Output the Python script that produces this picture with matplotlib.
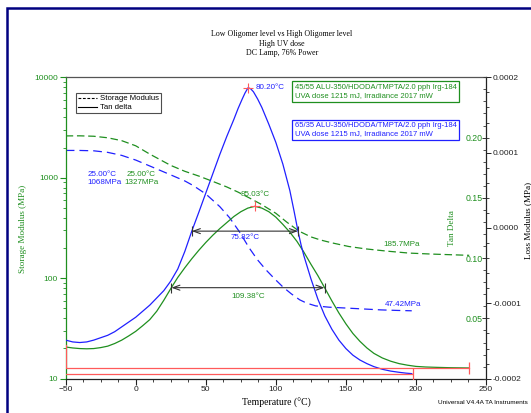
import numpy as np
import matplotlib
matplotlib.use('Agg')
import matplotlib.pyplot as plt
import matplotlib.ticker as ticker
from matplotlib.lines import Line2D
from matplotlib.patches import Rectangle

W, H = 531, 413

GREEN = '#1f8f1f'
BLUE = '#2020ff'
RED = '#ff5a5a'
SANS = 'Liberation Sans'
SERIF = 'Liberation Serif'

# tan delta, 45/55 sample
temp_green_td = [-50, -45, -40, -35, -30, -25, -20, -15, -10, -5, 0, 5, 10, 15, 20, 25.4, 30,
                 35, 40, 45, 50, 55, 60, 65, 70, 75, 80, 85.03, 90, 95, 100, 105, 110, 115,
                 120, 125, 130, 134.8, 140, 145, 150, 155, 160, 165, 170, 176, 182, 188, 194,
                 200, 207, 215, 225, 238]
td_green = [0.0263, 0.0255, 0.025, 0.0248, 0.025, 0.0258, 0.027, 0.0292, 0.032, 0.0355,
            0.0393, 0.044, 0.049, 0.056, 0.065, 0.0755, 0.084, 0.092, 0.0995, 0.1065, 0.113,
            0.119, 0.1245, 0.1295, 0.1345, 0.1385, 0.1415, 0.143, 0.1415, 0.1385, 0.134,
            0.128, 0.1215, 0.114, 0.105, 0.095, 0.0855, 0.0755, 0.0645, 0.0545, 0.0455,
            0.0375, 0.031, 0.0255, 0.021, 0.0172, 0.0145, 0.0125, 0.0112, 0.0102, 0.0097,
            0.0094, 0.0091, 0.0089]

# tan delta, 65/35 sample
temp_blue_td = [-50, -45, -40, -35, -30, -25, -20, -15, -10, -5, 0, 5, 10, 15, 20, 25, 30, 35,
                40, 45, 50, 55, 60, 65, 70, 73, 76, 78, 80.2, 82, 84, 87, 90, 95, 100, 105,
                110, 113, 115.8, 118, 120, 125, 130, 135, 140, 145, 150, 155, 160, 165, 170,
                176, 182, 188, 193, 197]
td_blue = [0.032, 0.0305, 0.030, 0.0305, 0.032, 0.034, 0.036, 0.039, 0.043, 0.047, 0.051,
           0.056, 0.061, 0.067, 0.073, 0.081, 0.091, 0.1055, 0.1224, 0.138, 0.154, 0.170,
           0.186, 0.201, 0.215, 0.224, 0.232, 0.237, 0.2414, 0.2405, 0.238, 0.232, 0.225,
           0.211, 0.196, 0.178, 0.156, 0.139, 0.1224, 0.111, 0.102, 0.083, 0.066, 0.052,
           0.041, 0.032, 0.025, 0.0195, 0.0155, 0.0125, 0.0100, 0.0078, 0.0063, 0.0053,
           0.0046, 0.0042]

# storage modulus (MPa)
temp_green_sm = [-50, -40, -30, -20, -10, 0, 10, 25, 35, 45, 55, 65, 73, 81, 90, 100, 108,
                 116.6, 125, 132, 140, 152, 164, 180, 195, 211, 238]
sm_green = [2610, 2615, 2590, 2500, 2340, 2080, 1720, 1327, 1160, 1040, 920, 810, 720, 631,
            540, 443, 360, 294, 258, 240, 225, 207, 196, 185.7, 178, 174, 169]

temp_blue_sm = [-50, -40, -30, -20, -10, 0, 10, 25, 35, 41, 50, 60, 67, 74, 81, 87, 93, 99,
                105, 111, 117, 122, 128.5, 138, 150, 163, 175, 187, 197]
sm_blue = [1871, 1870, 1855, 1790, 1670, 1500, 1310, 1068, 930, 837, 690, 516, 400, 290, 200,
           152, 121, 99, 82, 70, 61, 56.5, 53, 51.5, 50.5, 49.4, 48.4, 47.8, 47.42]

# peaks and half-height widths
peak_green = (85.03, 0.143)
peak_blue = (80.20, 0.2414)
width_green = (25.4, 109.38, 0.0755)
width_blue = (40.0, 75.82, 0.1224)

x_ticks = [-50, 0, 50, 100, 150, 200, 250]
td_ticks = [0.05, 0.10, 0.15, 0.20]
loss_ticks = [-0.0002, -0.0001, 0.0, 0.0001, 0.0002]

title_lines = ['Low Oligomer level vs High Oligomer level', 'High UV dose', 'DC Lamp, 76% Power']
green_note = '45/55 ALU-350/HDODA/TMPTA/2.0 pph Irg-184\nUVA dose 1215 mJ, Irradiance 2017 mW'
blue_note = '65/35 ALU-350/HDODA/TMPTA/2.0 pph Irg-184\nUVA dose 1215 mJ, Irradiance 2017 mW'


def fx(px):
    return px / W


def fy(py):
    return 1 - py / H


plt.rcParams['font.family'] = SANS
fig = plt.figure(figsize=(W / 100, H / 100), dpi=100)
fig.patch.set_facecolor('white')

ax = fig.add_axes([fx(65.7), fy(378.7), fx(486) - fx(65.7), fy(77.3) - fy(378.7)])
ax.set_yscale('log')
ax.set_xlim(-50, 250)
ax.set_ylim(10, 10000)

ax2 = ax.twinx()
ax2.set_ylim(0, 0.25)
ax3 = ax.twinx()
ax3.set_ylim(-0.0002, 0.0002)

# storage modulus, dashed
ax.plot(temp_green_sm, sm_green, color=GREEN, lw=0.9, ls=(0, (6, 3)))
ax.plot(temp_blue_sm, sm_blue, color=BLUE, lw=0.9, ls=(0, (7, 4)))

# tan delta, solid
ax2.plot(temp_green_td, td_green, color=GREEN, lw=0.9)
ax2.plot(temp_blue_td, td_blue, color=BLUE, lw=0.9)

# baselines in red
ax2.plot([temp_green_td[0], temp_green_td[0], temp_green_td[-1]],
         [0.028, td_green[-1] + 0.0002, td_green[-1] + 0.0002], color=RED, lw=0.9)
ax2.plot([temp_blue_td[0], temp_blue_td[-1]], [td_blue[-1], td_blue[-1]], color=RED, lw=0.9)
ax2.plot([temp_green_td[-1]], [td_green[-1] + 0.0002], marker='|', color=RED, ms=8, mew=0.9)
ax2.plot([temp_blue_td[-1] + 1], [td_blue[-1]], marker='|', color=RED, ms=8, mew=0.9)

# peak markers
for (t, v) in (peak_green, peak_blue):
    ax2.plot([t], [v], marker='+', color=RED, ms=7, mew=0.8)

# half-height width arrows
for (t0, w, v) in (width_green, width_blue):
    ax2.annotate('', xy=(t0, v), xytext=(t0 + w, v),
                 arrowprops=dict(arrowstyle='<->,head_length=0.5,head_width=0.18',
                                 color='#333333', lw=0.8, shrinkA=0, shrinkB=0))
    ax2.plot([t0, t0 + w], [v, v], ls='none', marker='|', color='#333333', ms=7, mew=0.8)

ax2.text(peak_blue[0] + 5.5, peak_blue[1], '%.2f°C' % peak_blue[0], color=BLUE,
         fontsize=5.8, va='center', ha='left')
ax2.text(peak_green[0], peak_green[1] + 0.010, '%.2f°C' % peak_green[0], color=GREEN,
         fontsize=5.8, va='center', ha='center')
ax2.text(width_blue[0] + width_blue[1] / 2, width_blue[2] - 0.0053, '%.2f°C' % width_blue[1],
         color=BLUE, fontsize=5.8, va='center', ha='center')
ax2.text(width_green[0] + width_green[1] / 2, width_green[2] - 0.0070, '%.2f°C' % width_green[1],
         color=GREEN, fontsize=5.8, va='center', ha='center')

# storage modulus values
ax.text(-34.6, 975, '25.00°C\n1068MPa', color=BLUE, fontsize=5.8, va='center', ha='left',
        linespacing=1.15)
ax.text(3.8, 975, '25.00°C\n1327MPa', color=GREEN, fontsize=5.8, va='center', ha='center',
        linespacing=1.15)
ax.text(177, 215, '185.7MPa', color=GREEN, fontsize=5.8, va='center', ha='left')
ax.text(178, 54.5, '47.42MPa', color=BLUE, fontsize=5.8, va='center', ha='left')

# sample notes
fig.text(fx(294.6), fy(91.4), green_note, color=GREEN, fontsize=5.5, va='center', ha='left',
         linespacing=1.2,
         bbox=dict(boxstyle='square,pad=0.35', fc='white', ec=GREEN, lw=0.9))
fig.text(fx(294.6), fy(129.7), blue_note, color=BLUE, fontsize=5.5, va='center', ha='left',
         linespacing=1.2,
         bbox=dict(boxstyle='square,pad=0.35', fc='white', ec=BLUE, lw=0.9))

# legend
handles = [Line2D([], [], color='black', lw=0.8, ls=(0, (2.5, 1.5))),
           Line2D([], [], color='black', lw=0.8)]
leg = ax3.legend(handles, ['Storage Modulus', 'Tan delta'], loc='upper left',
                 bbox_to_anchor=(fx(76), fy(93)), bbox_transform=fig.transFigure,
                 fontsize=5.6, frameon=True, fancybox=False, edgecolor='#222222',
                 borderpad=0.25, labelspacing=0.2, handlelength=2.5, handletextpad=0.3,
                 borderaxespad=0)
leg.get_frame().set_linewidth(0.8)

# main axis styling
ax.spines['left'].set_color(GREEN)
ax.spines['top'].set_color('#555555')
ax.spines['right'].set_color('#222222')
ax.spines['bottom'].set_color('#222222')
for s in ax.spines.values():
    s.set_linewidth(0.9)
for a in (ax2, ax3):
    for s in a.spines.values():
        s.set_visible(False)

ax.set_xticks(x_ticks)
ax.xaxis.set_minor_locator(ticker.MultipleLocator(12.5))
ax.tick_params(axis='x', which='major', length=4, width=0.8, labelsize=6, pad=1.5,
               colors='#222222')
ax.tick_params(axis='x', which='minor', length=2.5, width=0.6, colors='#222222')
ax.yaxis.set_major_formatter(ticker.FuncFormatter(lambda v, p: '%g' % v))
ax.yaxis.set_minor_formatter(ticker.NullFormatter())
ax.tick_params(axis='y', which='major', length=4, width=0.8, labelsize=6, pad=1.5,
               colors=GREEN)
ax.tick_params(axis='y', which='minor', length=2.2, width=0.6, colors=GREEN)

ax2.set_yticks(td_ticks)
ax2.yaxis.set_minor_locator(ticker.MultipleLocator(0.01))
ax2.yaxis.set_major_formatter(ticker.FormatStrFormatter('%.2f'))
ax2.tick_params(axis='y', which='major', direction='in', length=3, width=0.7,
                color='#333333', labelcolor=GREEN, labelsize=6.3, pad=-15)
ax2.tick_params(axis='y', which='minor', direction='in', length=2, width=0.6, color='#333333')

ax3.set_yticks(loss_ticks)
ax3.yaxis.set_minor_locator(ticker.MultipleLocator(0.00002))
ax3.yaxis.set_major_formatter(ticker.FormatStrFormatter('%.4f'))
ax3.tick_params(axis='y', which='major', length=3.5, width=0.7, colors='#222222',
                labelsize=6, pad=1.5)
ax3.tick_params(axis='y', which='minor', length=2, width=0.6, colors='#222222')

# axis titles
fig.text(fx(23.5), fy(229), 'Storage Modulus (MPa)', color=GREEN, fontsize=6.6,
         family=SERIF, rotation=90, va='center', ha='center')
fig.text(fx(452), fy(228), 'Tan Delta', color=GREEN, fontsize=6.6,
         family=SERIF, rotation=90, va='center', ha='center')
fig.text(fx(528), fy(220), 'Loss Modulus (MPa)', color='black', fontsize=6.6,
         family=SERIF, rotation=90, va='center', ha='center')
fig.text(fx(276), fy(402.5), 'Temperature (°C)', color='black', fontsize=7,
         family=SERIF, va='center', ha='center')
fig.text(fx(437.5), fy(403), 'Universal V4.4A TA Instruments', color='black', fontsize=4.6,
         va='center', ha='left')

for i, line in enumerate(title_lines):
    fig.text(fx(281.7), fy(34.3 + 9.2 * i), line, color='black', fontsize=5.7,
             family=SERIF, va='center', ha='center')

# outer frame
fig.patches.append(Rectangle((fx(6.5), -0.2), 1.2, fy(8) + 0.2, transform=fig.transFigure,
                             fill=False, edgecolor='#000080', lw=1.8, zorder=10))

fig.savefig('out.png', dpi=100)
